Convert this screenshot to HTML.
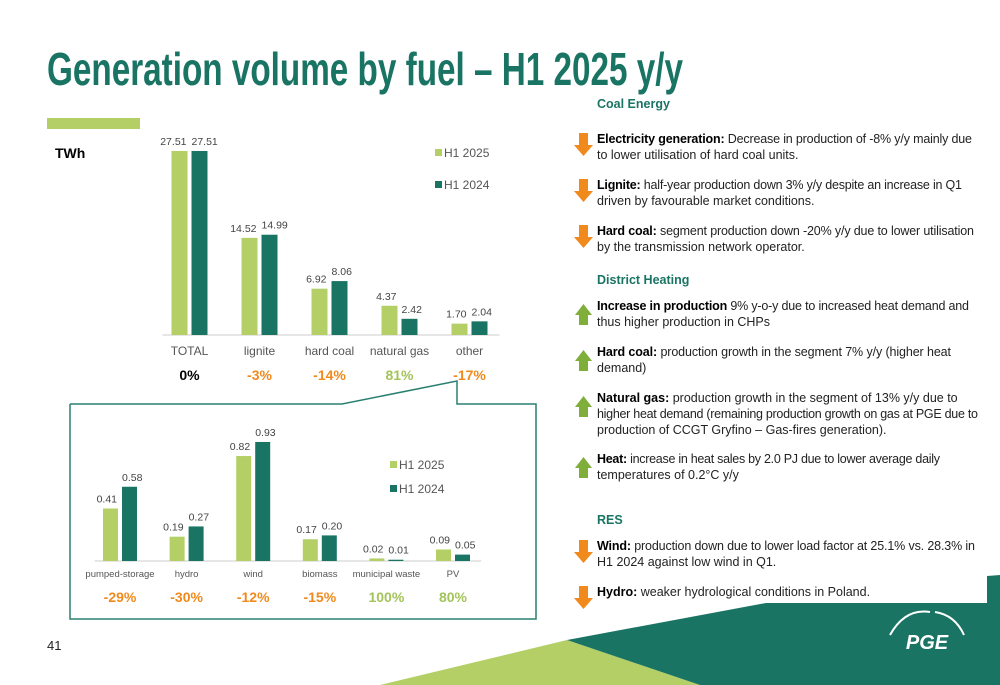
<!DOCTYPE html>
<html><head><meta charset="utf-8"><style>
body{margin:0;background:#fff}
svg{display:block;font-family:"Liberation Sans",sans-serif}
</style></head><body>
<svg id="s" width="1000" height="685" viewBox="0 0 1000 685">
<polygon points="380,685 567,640 700,685" fill="#b3cf65"/>
<polygon points="567,640 766,603 987,603 987,576 1000,575 1000,685 700,685" fill="#1a7464"/>
<g fill="none" stroke="#fff" stroke-width="2">
<path d="M890,635 Q905,608 930,612"/><path d="M935,612 Q955,615 964,635"/>
<text x="927" y="649" fill="#fff" stroke="none" font-size="20" font-weight="bold" font-style="italic" text-anchor="middle">PGE</text>
</g>
<text x="47" y="85" font-family="'Liberation Sans Narrow','Liberation Sans',sans-serif" font-weight="bold" font-size="46" fill="#1a7464" textLength="636" lengthAdjust="spacingAndGlyphs">Generation volume by fuel – H1 2025 y/y</text>
<rect x="47" y="118" width="93" height="11" fill="#b3cf65"/>
<text x="55" y="158" font-size="14" font-weight="bold">TWh</text>
<text x="47" y="650" font-size="13" fill="#222">41</text>
<polyline points="70,404 342,404 457,381 457,404 536,404 536,619 70,619 70,404" fill="none" stroke="#2a8070" stroke-width="1.5"/>
<g id="top"></g>
<g id="bot"></g>
<g id="txt"></g>
</svg>
<script>
const topCats=["TOTAL","lignite","hard coal","natural gas","other"];
const top2025=[27.51,14.52,6.92,4.37,1.70];
const top2024=[27.51,14.99,8.06,2.42,2.04];
const topPct=["0%","-3%","-14%","81%","-17%"];
const botCats=["pumped-storage","hydro","wind","biomass","municipal waste","PV"];
const bot2025=[0.41,0.19,0.82,0.17,0.02,0.09];
const bot2024=[0.58,0.27,0.93,0.20,0.01,0.05];
const botPct=["-29%","-30%","-12%","-15%","100%","80%"];
const NS="http://www.w3.org/2000/svg";
const LG="#b3cf65",DG="#1a7464",OR="#f08a1c";
function mk(p,tag,a,t){const e=document.createElementNS(NS,tag);for(const k in a)e.setAttribute(k,a[k]);if(t!=null)e.textContent=t;p.appendChild(e);return e;}
function pctColor(s){if(s==="0%")return "#000";return s.startsWith("-")?OR:"#a3c45a";}
function chart(g,cats,a,b,pct,o){
 const x=i=>o.x0+i*o.step, y=v=>o.base-v*o.k;
 const bl=mk(g,'line',{x1:o.x0-o.step/2+8,x2:x(cats.length-1)+o.step/2-5,y1:o.base,y2:o.base,stroke:"#ddd","stroke-width":1.5});
 
 cats.forEach((c,i)=>{
  const r1=mk(g,'rect',{x:x(i)-o.w-2,y:y(a[i]),width:o.w,height:o.base-y(a[i]),fill:LG});
  
  const r2=mk(g,'rect',{x:x(i)+2,y:y(b[i]),width:o.w,height:o.base-y(b[i]),fill:DG});
  
  const l1=mk(g,'text',{x:x(i)-3,y:y(a[i])-6,"font-size":o.fs,fill:"#444","text-anchor":"end"},a[i].toFixed(2));
  
  const l2=mk(g,'text',{x:x(i)+2,y:y(b[i])-6,"font-size":o.fs,fill:"#444","text-anchor":"start"},b[i].toFixed(2));
  
  const cl=mk(g,'text',{x:x(i),y:o.base+o.cy,"font-size":o.cfs,fill:"#555","text-anchor":"middle"},c);
  
  const pl=mk(g,'text',{x:x(i),y:o.base+o.py,"font-size":14,"font-weight":"bold",fill:pctColor(pct[i]),"text-anchor":"middle"},pct[i]);
  
 });
 [["H1 2025",LG],["H1 2024",DG]].forEach((L,j)=>{
  const r=mk(g,'rect',{x:o.lx,y:o.ly+j*o.ld-8,width:7,height:7,fill:L[1]});
  
  const t=mk(g,'text',{x:o.lx+9,y:o.ly+j*o.ld,"font-size":12,fill:"#555"},L[0]);
  
 });
}
chart(document.getElementById('top'),topCats,top2025,top2024,topPct,{x0:189.5,step:70,w:16,base:335,k:6.69,fs:10.5,cfs:12,cy:20,py:45,lx:435,ly:157,ld:32});
chart(document.getElementById('bot'),botCats,bot2025,bot2024,botPct,{x0:120,step:66.6,w:15,base:561,k:128,fs:10.5,cfs:9.5,cy:16,py:41,lx:390,ly:469,ld:24});
const T=document.getElementById('txt');
const heads=[["Coal Energy",108],["District Heating",284],["RES",524]];
heads.forEach(h=>{const e=mk(T,'text',{x:597,y:h[1],"font-size":12.5,"font-weight":"bold",fill:"#1a7464"},h[0]);
});
const items=[
 ["down",139,[["Electricity generation:"," Decrease in production of -8% y/y mainly due",375],["","to lower utilisation of hard coal units.",0]]],
 ["down",185,[["Lignite:"," half-year production down 3% y/y despite an increase in Q1",365],["","driven by favourable market conditions.",0]]],
 ["down",231,[["Hard coal:"," segment production down -20% y/y due to lower utilisation",377],["","by the transmission network operator.",0]]],
 ["up",306,[["Increase in production"," 9% y-o-y due to increased heat demand and",372],["","thus higher production in CHPs",0]]],
 ["up",352,[["Hard coal:"," production growth in the segment 7% y/y (higher heat",354],["","demand)",0]]],
 ["up",398,[["Natural gas:"," production growth in the segment of 13% y/y due to",0],["","higher heat demand (remaining production growth on gas at PGE due to",381],["","production of CCGT Gryfino – Gas-fires generation).",0]]],
 ["up",459,[["Heat:"," increase in heat sales by 2.0 PJ due to lower average daily",343],["","temperatures of 0.2°C y/y",0]]],
 ["down",546,[["Wind:"," production down due to lower load factor at 25.1% vs. 28.3% in",378],["","H1 2024 against low wind in Q1.",0]]],
 ["down",592,[["Hydro:"," weaker hydrological conditions in Poland.",0]]]
];
items.forEach((it,n)=>{
 const y=it[1];
 const ar = it[0]==="down"
  ? mk(T,'polygon',{points:`579,${y-6} 588,${y-6} 588,${y+6} 593,${y+6} 583.5,${y+17} 574,${y+6} 579,${y+6}`,fill:OR})
  : mk(T,'polygon',{points:`579,${y+19} 588,${y+19} 588,${y+9} 592,${y+9} 583.5,${y-2} 575,${y+9} 579,${y+9}`,fill:"#7fae3a"});
 
 
 it[2].forEach((ln,j)=>{
  const a={x:597,y:y+4+j*16,"font-size":12.5,fill:"#222"};
  if(ln[2])a.textLength=ln[2];
  const t=mk(T,'text',a);
  
  
  if(ln[0]){mk(t,'tspan',{"font-weight":"bold",fill:"#000"},ln[0]);}
  mk(t,'tspan',{},ln[1]);
 });
});
</script>
</body></html>
